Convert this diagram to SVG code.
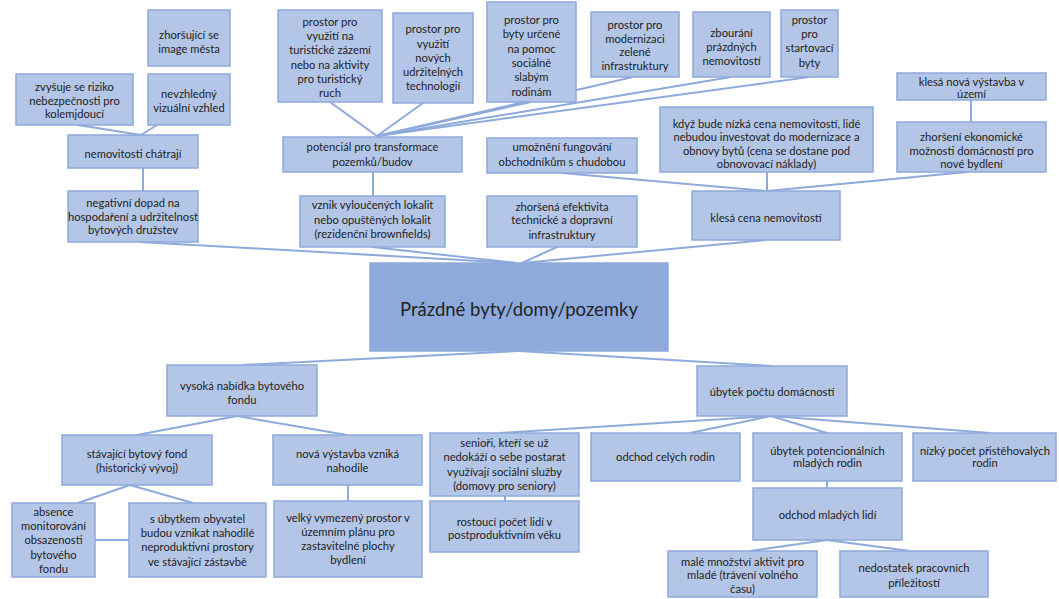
<svg xmlns="http://www.w3.org/2000/svg" width="1059" height="599" viewBox="0 0 1059 599">
<style>
.b{fill:#b4c6e7;stroke:#8ea9db;stroke-width:1.5}
.m{fill:#8eaadc;stroke:#8ea9db;stroke-width:1.5}
text{font-family:Lato,"Liberation Sans",sans-serif;font-size:11.2px;fill:#222222;text-anchor:middle}
.big{font-size:18.5px}
.c line{stroke:#8eaadb;stroke-width:2;fill:none}
</style>
<rect width="1059" height="599" fill="#ffffff"/>
<g class="c" id="connectors">
<line x1="78" y1="125" x2="141" y2="135"/>
<line x1="157" y1="125" x2="141" y2="135"/>
<line x1="143" y1="168" x2="143" y2="191"/>
<line x1="140" y1="242" x2="516" y2="263"/>
<line x1="372" y1="247" x2="516" y2="263"/>
<line x1="557" y1="247" x2="522" y2="263"/>
<line x1="766" y1="240" x2="522" y2="263"/>
<line x1="330" y1="102" x2="377" y2="136"/>
<line x1="423" y1="103" x2="377" y2="136"/>
<line x1="531" y1="102" x2="377" y2="136"/>
<line x1="633" y1="77" x2="377" y2="136"/>
<line x1="731" y1="77" x2="377" y2="136"/>
<line x1="809" y1="77" x2="377" y2="136"/>
<line x1="373" y1="172" x2="373" y2="196"/>
<line x1="562" y1="173" x2="766" y2="191"/>
<line x1="767" y1="172" x2="767" y2="191"/>
<line x1="967" y1="172" x2="767" y2="191"/>
<line x1="971" y1="100" x2="971" y2="122"/>
<line x1="519" y1="351" x2="242" y2="365"/>
<line x1="519" y1="351" x2="772" y2="366"/>
<line x1="237" y1="416" x2="137" y2="435"/>
<line x1="237" y1="416" x2="347" y2="435"/>
<line x1="130" y1="485" x2="78" y2="503"/>
<line x1="130" y1="485" x2="193" y2="503"/>
<line x1="95" y1="540" x2="129" y2="540"/>
<line x1="348" y1="485" x2="348" y2="501"/>
<line x1="771" y1="416" x2="500" y2="433"/>
<line x1="771" y1="416" x2="690" y2="433"/>
<line x1="771" y1="416" x2="827" y2="433"/>
<line x1="771" y1="416" x2="990" y2="433"/>
<line x1="827" y1="481" x2="827" y2="488"/>
<line x1="827" y1="540" x2="750" y2="551"/>
<line x1="827" y1="540" x2="910" y2="551"/>
<line x1="505" y1="496" x2="505" y2="501"/>
</g>
<g id="n-image"><rect class="b" x="148" y="10" width="82" height="56"/><text x="189"><tspan x="189" y="39">zhoršující se</tspan><tspan x="189" y="53">image města</tspan></text></g>
<g id="n-riziko"><rect class="b" x="16" y="74" width="117" height="51"/><text><tspan x="74.5" y="91">zvyšuje se riziko</tspan><tspan x="74.5" y="104.5">nebezpečnosti pro</tspan><tspan x="74.5" y="118">kolemjdoucí</tspan></text></g>
<g id="n-vzhled"><rect class="b" x="148" y="74" width="82" height="51"/><text><tspan x="189" y="98">nevzhledný</tspan><tspan x="189" y="111.5">vizuální vzhled</tspan></text></g>
<g id="n-chatraji"><rect class="b" x="68" y="135" width="130" height="33"/><text x="133" y="158">nemovitosti chátrají</text></g>
<g id="n-druzstva"><rect class="b" x="68" y="191" width="130" height="51"/><text><tspan x="133" y="206.5">negativní dopad na</tspan><tspan x="133" y="220.5">hospodaření a udržitelnost</tspan><tspan x="133" y="234">bytových družstev</tspan></text></g>
<g id="n-turist"><rect class="b" x="278" y="10" width="104" height="92"/><text><tspan x="330" y="25.7">prostor pro</tspan><tspan x="330" y="40">využití na</tspan><tspan x="330" y="54.3">turistické zázemí</tspan><tspan x="330" y="68.6">nebo na aktivity</tspan><tspan x="330" y="82.9">pro turistický</tspan><tspan x="330" y="97.2">ruch</tspan></text></g>
<g id="n-technologie"><rect class="b" x="393" y="13" width="80" height="90"/><text><tspan x="433" y="33.3">prostor pro</tspan><tspan x="433" y="47.5">využití</tspan><tspan x="433" y="61.7">nových</tspan><tspan x="433" y="75.8">udržitelných</tspan><tspan x="433" y="90">technologií</tspan></text></g>
<g id="n-socialni"><rect class="b" x="487" y="2" width="89" height="100"/><text><tspan x="531.5" y="24">prostor pro</tspan><tspan x="531.5" y="38.3">byty určené</tspan><tspan x="531.5" y="52.7">na pomoc</tspan><tspan x="531.5" y="67">sociálně</tspan><tspan x="531.5" y="81.3">slabým</tspan><tspan x="531.5" y="95.7">rodinám</tspan></text></g>
<g id="n-zelen"><rect class="b" x="591" y="12" width="88" height="65"/><text><tspan x="635" y="29">prostor pro</tspan><tspan x="635" y="42.7">modernizaci</tspan><tspan x="635" y="56.3">zelené</tspan><tspan x="635" y="70">infrastruktury</tspan></text></g>
<g id="n-zbourani"><rect class="b" x="693" y="12" width="77" height="65"/><text><tspan x="731.5" y="37.3">zbourání</tspan><tspan x="731.5" y="50.7">prázdných</tspan><tspan x="731.5" y="64.7">nemovitostí</tspan></text></g>
<g id="n-startovaci"><rect class="b" x="781" y="10" width="57" height="67"/><text><tspan x="809.5" y="24">prostor</tspan><tspan x="809.5" y="37.5">pro</tspan><tspan x="809.5" y="52">startovací</tspan><tspan x="809.5" y="67">byty</tspan></text></g>
<g id="n-potencial"><rect class="b" x="283" y="137" width="179" height="35"/><text><tspan x="372.5" y="150.7">potenciál pro transformace</tspan><tspan x="372.5" y="165.7">pozemků/budov</tspan></text></g>
<g id="n-brownfields"><rect class="b" x="300" y="196" width="145" height="51"/><text><tspan x="372.5" y="209">vznik vyloučených lokalit</tspan><tspan x="372.5" y="223.5">nebo opuštěných lokalit</tspan><tspan x="372.5" y="237.5">(rezidenční brownfields)</tspan></text></g>
<g id="n-obchodnici"><rect class="b" x="487" y="138" width="150" height="35"/><text><tspan x="562" y="150.7">umožnění fungování</tspan><tspan x="562" y="165.7">obchodníkům s chudobou</tspan></text></g>
<g id="n-infrastruktura"><rect class="b" x="487" y="196" width="150" height="51"/><text><tspan x="562" y="210.5">zhoršená efektivita</tspan><tspan x="562" y="224.3">technické a dopravní</tspan><tspan x="562" y="238.5">infrastruktury</tspan></text></g>
<g id="n-investice"><rect class="b" x="660" y="107" width="213" height="65"/><text><tspan x="766.5" y="128">když bude nízká cena nemovitostí, lidé</tspan><tspan x="766.5" y="141.3">nebudou investovat do modernizace a</tspan><tspan x="766.5" y="154.7">obnovy bytů (cena se dostane pod</tspan><tspan x="766.5" y="168">obnovovací náklady)</tspan></text></g>
<g id="n-vystavba"><rect class="b" x="897" y="73" width="149" height="27"/><text><tspan x="971.5" y="86">klesá nová výstavba v</tspan><tspan x="971.5" y="98">území</tspan></text></g>
<g id="n-ekonomika"><rect class="b" x="897" y="122" width="149" height="50"/><text><tspan x="971.5" y="141.3">zhoršení ekonomické</tspan><tspan x="971.5" y="154.7">možnosti domácností pro</tspan><tspan x="971.5" y="168">nové bydlení</tspan></text></g>
<g id="n-cena"><rect class="b" x="692" y="191" width="148" height="49"/><text x="766" y="222">klesá cena nemovitostí</text></g>
<g id="n-center"><rect class="m" x="370" y="263" width="298" height="88"/><text class="big" x="519" y="316">Prázdné byty/domy/pozemky</text></g>
<g id="n-nabidka"><rect class="b" x="167" y="365" width="150" height="51"/><text><tspan x="242" y="390">vysoká nabídka bytového</tspan><tspan x="242" y="404">fondu</tspan></text></g>
<g id="n-fond"><rect class="b" x="62" y="435" width="150" height="50"/><text><tspan x="137" y="458">stávající bytový fond</tspan><tspan x="137" y="472.3">(historický vývoj)</tspan></text></g>
<g id="n-nahodile"><rect class="b" x="273" y="435" width="149" height="50"/><text><tspan x="347.5" y="458">nová výstavba vzniká</tspan><tspan x="347.5" y="472.3">nahodile</tspan></text></g>
<g id="n-monitoring"><rect class="b" x="12" y="503" width="83" height="74"/><text><tspan x="53.5" y="515.7">absence</tspan><tspan x="53.5" y="529.7">monitorování</tspan><tspan x="53.5" y="544">obsazenosti</tspan><tspan x="53.5" y="559">bytového</tspan><tspan x="53.5" y="573.3">fondu</tspan></text></g>
<g id="n-neproduktivni"><rect class="b" x="129" y="503" width="137" height="74"/><text><tspan x="197.5" y="523.3">s úbytkem obyvatel</tspan><tspan x="197.5" y="537.3">budou vznikat nahodilé</tspan><tspan x="197.5" y="551.3">neproduktivní prostory</tspan><tspan x="197.5" y="565.7">ve stávající zástavbě</tspan></text></g>
<g id="n-uzemni-plan"><rect class="b" x="274" y="501" width="148" height="76"/><text><tspan x="348" y="522.3">velký vymezený prostor v</tspan><tspan x="348" y="535.7">územním plánu pro</tspan><tspan x="348" y="550">zastavitelné plochy</tspan><tspan x="348" y="564">bydlení</tspan></text></g>
<g id="n-domacnosti"><rect class="b" x="697" y="366" width="150" height="50"/><text x="772" y="395.7">úbytek počtu domácností</text></g>
<g id="n-seniori"><rect class="b" x="430" y="433" width="149" height="63"/><text><tspan x="504.5" y="447.3">senioři, kteří se už</tspan><tspan x="504.5" y="461.3">nedokáží o sebe postarat</tspan><tspan x="504.5" y="475.7">využívají sociální služby</tspan><tspan x="504.5" y="490">(domovy pro seniory)</tspan></text></g>
<g id="n-postproduktivni"><rect class="b" x="430" y="501" width="149" height="51"/><text><tspan x="504.5" y="525.7">rostoucí počet lidí v</tspan><tspan x="504.5" y="539">postproduktivním věku</tspan></text></g>
<g id="n-rodiny"><rect class="b" x="591" y="433" width="149" height="48"/><text x="665.5" y="461.3">odchod celých rodin</text></g>
<g id="n-mlade-rodiny"><rect class="b" x="753" y="433" width="149" height="48"/><text><tspan x="827.5" y="454.7">úbytek potencionálních</tspan><tspan x="827.5" y="467.3">mladých rodin</tspan></text></g>
<g id="n-pristehovali"><rect class="b" x="913" y="433" width="143" height="48"/><text><tspan x="985" y="454.7">nízký počet přistěhovalých</tspan><tspan x="985" y="467.3">rodin</tspan></text></g>
<g id="n-mladi"><rect class="b" x="753" y="488" width="149" height="52"/><text x="827.5" y="519">odchod mladých lidí</text></g>
<g id="n-aktivity"><rect class="b" x="668" y="551" width="149" height="46"/><text><tspan x="742.5" y="565.7">malé množství aktivit pro</tspan><tspan x="742.5" y="579">mladé (trávení volného</tspan><tspan x="742.5" y="593">času)</tspan></text></g>
<g id="n-prace"><rect class="b" x="840" y="551" width="148" height="46"/><text><tspan x="914" y="572.3">nedostatek pracovních</tspan><tspan x="914" y="586.7">příležitostí</tspan></text></g>
</svg>
